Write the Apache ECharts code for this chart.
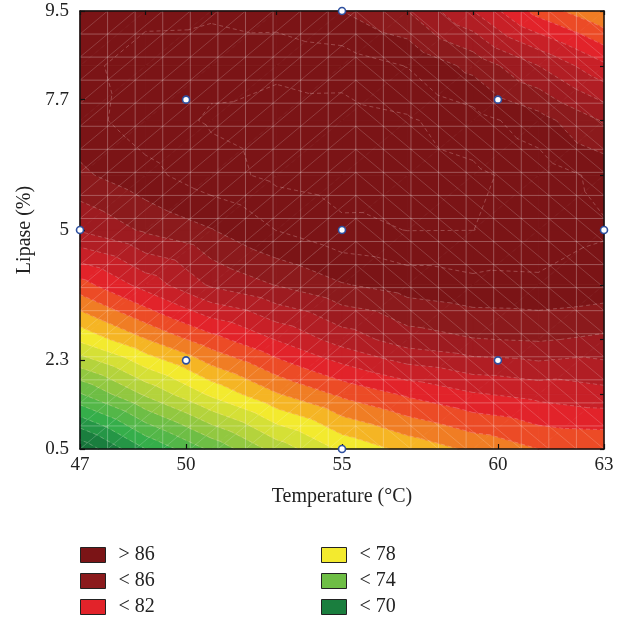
<!DOCTYPE html>
<html><head><meta charset="utf-8">
<script src="https://cdn.jsdelivr.net/npm/echarts@6/dist/echarts.min.js"></script>
<style>html,body{margin:0;padding:0;background:#fff}#c{width:624px;height:617px}</style>
</head><body><div id="c"></div>
<script>
// ---- data (coded factor units; labels give the real values) ----
const xTickCoded = [-1.68, -1, 0, 1, 1.68];
const xTickLabels = ['47', '50', '55', '60', '63'];
const yTickCoded = [-1.68, -1, 0, 1, 1.68];
const yTickLabels = ['0.5', '2.3', '5', '7.7', '9.5'];

// estimation grid nodes (temperature columns, lipase rows)
const gridTempCoded = [-1.68, -1.26, -0.84, -0.42, 0, 0.42, 0.84, 1.26, 1.68];
const gridLipaseCoded = [-1.68, -1.26, -0.84, -0.42, 0, 0.42, 0.84, 1.26, 1.68];
// response, one row per lipase level (bottom -> top)
const yieldRow0 = [68.2, 71.0, 73.2, 75.4, 77.2, 78.3, 79.2, 80.0, 80.1];
const yieldRow1 = [72.9, 75.15, 77.18, 78.91, 80.2, 81.15, 81.9, 82.3, 82.65];
const yieldRow2 = [77.2, 78.95, 80.6, 82.05, 83.44, 84.52, 84.95, 85.1, 84.8];
const yieldRow3 = [80.6, 82.4, 84.15, 85.05, 85.93, 86.45, 86.74, 86.79, 86.6];
const yieldRow4 = [84.1, 85.16, 85.95, 87.02, 87.75, 88.02, 88.01, 87.72, 87.1];
const yieldRow5 = [85.8, 86.69, 87.61, 88.25, 88.55, 88.53, 88.21, 87.58, 86.7];
const yieldRow6 = [86.6, 87.53, 88.11, 88.41, 88.43, 88.13, 87.43, 86.41, 84.9];
const yieldRow7 = [86.75, 87.42, 87.75, 87.79, 87.58, 86.96, 85.69, 84.0, 82.2];
const yieldRow8 = [86.5, 86.75, 86.78, 86.5, 86.0, 85.0, 83.0, 80.6, 79.0];

// contour band boundaries and fill colours (band k lies below level k)
const contourLevels = [67,68,69,70,71,72,73,74,75,76,77,78,79,80,81,82,83,84,85,86];
const bandColors = ['#0f6330','#146b35','#17743a','#1a7e3e','#259646','#35ae4a','#53b748','#6ebe45',
  '#92c840','#b4d33c','#d5e036','#f3ea2e','#f5b524','#f07d24','#ec4b26','#e2232a',
  '#c82027','#b11e24','#9d1b20','#8b1a1c','#7b1416'];
const isoLevels = [67,68,69,70,71,72,73,74,75,76,77,78,79,80,81,82,83,84,85,86,87,88];

// design points (coded)
const designTempCoded = [-1, -1, 1, 1, 0, -1.68, 1.68, 0, 0];
const designLipaseCoded = [-1, 1, -1, 1, 0, 0, 0, -1.68, 1.68];

const legendLabels = ['> 86', '< 86', '< 82', '< 78', '< 74', '< 70'];
const legendColors = ['#7b1416', '#8b1a1c', '#e2232a', '#f3ea2e', '#6ebe45', '#1a7e3e'];

const codedMin = -1.68, codedMax = 1.68, frameStep = 0.42, meshCells = 19;

// ---- rendering ----
const zRows = [yieldRow0, yieldRow1, yieldRow2, yieldRow3, yieldRow4, yieldRow5, yieldRow6, yieldRow7, yieldRow8];
const FONT = '"Liberation Serif", "DejaVu Serif", serif';

function pt(api, i, j) {
  const p = api.coord([gridTempCoded[i], gridLipaseCoded[j]]);
  return { x: p[0], y: p[1], z: zRows[j][i] };
}
function triangles(api, i, j) {
  const a = pt(api, i, j), b = pt(api, i + 1, j), c = pt(api, i + 1, j + 1), d = pt(api, i, j + 1);
  return [[a, b, c], [a, c, d]];
}
function clipPoly(pts, level, keepAbove) {
  const out = [];
  for (let k = 0; k < pts.length; k++) {
    const a = pts[k], b = pts[(k + 1) % pts.length];
    const ina = keepAbove ? a.z >= level : a.z <= level;
    const inb = keepAbove ? b.z >= level : b.z <= level;
    if (ina) out.push(a);
    if (ina !== inb) {
      const t = (level - a.z) / (b.z - a.z);
      out.push({ x: a.x + t * (b.x - a.x), y: a.y + t * (b.y - a.y), z: level });
    }
  }
  return out;
}
function renderBands(params, api) {
  const i = api.value(0), j = api.value(1);
  const children = [];
  triangles(api, i, j).forEach(tri => {
    for (let b = 0; b < bandColors.length; b++) {
      let poly = tri;
      if (b > 0) poly = clipPoly(poly, contourLevels[b - 1], true);
      if (poly.length < 3) continue;
      if (b < contourLevels.length) poly = clipPoly(poly, contourLevels[b], false);
      if (poly.length < 3) continue;
      children.push({ type: 'polygon', shape: { points: poly.map(p => [p.x, p.y]) },
        style: { fill: bandColors[b], stroke: bandColors[b], lineWidth: 0.8 } });
    }
  });
  return { type: 'group', children };
}
function renderIso(params, api) {
  const i = api.value(0), j = api.value(1);
  const children = [];
  triangles(api, i, j).forEach(tri => {
    isoLevels.forEach(L => {
      const pts = [];
      for (let k = 0; k < 3; k++) {
        const a = tri[k], b = tri[(k + 1) % 3];
        if ((a.z >= L) !== (b.z >= L)) {
          const t = (L - a.z) / (b.z - a.z);
          pts.push([a.x + t * (b.x - a.x), a.y + t * (b.y - a.y)]);
        }
      }
      if (pts.length === 2) children.push({ type: 'line',
        shape: { x1: pts[0][0], y1: pts[0][1], x2: pts[1][0], y2: pts[1][1] },
        style: { stroke: 'rgba(255,225,225,0.33)', lineWidth: 0.8, lineDash: [4, 3] } });
    });
  });
  return { type: 'group', children };
}
function renderMesh(params, api) {
  const children = [];
  const step = (codedMax - codedMin) / meshCells;
  const P = (u, v) => api.coord([u, v]);
  const gridStyle = { stroke: 'rgba(255,255,255,0.28)', lineWidth: 1 };
  const diagStyle = { stroke: 'rgba(255,255,255,0.22)', lineWidth: 0.8 };
  for (let k = 1; k < meshCells; k++) {
    const u = codedMin + k * step;
    const a = P(u, codedMin), b = P(u, codedMax);
    children.push({ type: 'line', shape: { x1: a[0], y1: a[1], x2: b[0], y2: b[1] }, style: gridStyle });
    const c = P(codedMin, u), d = P(codedMax, u);
    children.push({ type: 'line', shape: { x1: c[0], y1: c[1], x2: d[0], y2: d[1] }, style: gridStyle });
  }
  for (let ci = 0; ci < meshCells; ci++) {
    for (let rj = 0; rj < meshCells; rj++) {
      const u0 = codedMin + ci * step, u1 = u0 + step, v0 = codedMin + rj * step, v1 = v0 + step;
      let a, b;
      if (ci < 10) { a = P(u0, v0); b = P(u1, v1); } else { a = P(u0, v1); b = P(u1, v0); }
      children.push({ type: 'line', shape: { x1: a[0], y1: a[1], x2: b[0], y2: b[1] }, style: diagStyle });
    }
  }
  return { type: 'group', children };
}

const cells = [];
for (let j = 0; j < gridLipaseCoded.length - 1; j++)
  for (let i = 0; i < gridTempCoded.length - 1; i++) cells.push([i, j]);

const fmt = (ticks, labels) => v => {
  const k = ticks.findIndex(t => Math.abs(t - v) < 1e-6);
  return k >= 0 ? labels[k] : '';
};
const frameLine = { show: true, onZero: false, lineStyle: { color: '#111', width: 1.5 } };
const legendCommon = {
  orient: 'vertical', top: 545, height: 100, padding: 0,
  itemWidth: 25, itemHeight: 15, itemGap: 6, icon: 'rect',
  selectedMode: false,
  itemStyle: { borderColor: '#222', borderWidth: 1, opacity: 1 },
  textStyle: { fontFamily: FONT, fontSize: 20, lineHeight: 15, color: '#222', padding: [0, 0, 0, 8] }
};

const option = {
  animation: false,
  backgroundColor: '#fff',
  grid: { left: 80, right: 20, top: 11, bottom: 168, containLabel: false },
  xAxis: [
    { type: 'value', position: 'bottom', min: codedMin, max: codedMax, z: 10,
      axisLine: frameLine,
      axisTick: { show: true, inside: true, length: 5, customValues: xTickCoded, lineStyle: { color: '#111', width: 1.2 } },
      axisLabel: { customValues: xTickCoded, formatter: fmt(xTickCoded, xTickLabels), showMinLabel: true, showMaxLabel: true,
        fontFamily: FONT, fontSize: 19, color: '#222', margin: 7 },
      splitLine: { show: false },
      name: 'Temperature (°C)', nameLocation: 'middle', nameGap: 38,
      nameTextStyle: { fontFamily: FONT, fontSize: 20, color: '#222' } },
    { type: 'value', position: 'top', min: codedMin, max: codedMax, interval: frameStep, z: 10,
      axisLine: frameLine,
      axisTick: { show: true, inside: true, length: 4, lineStyle: { color: '#111', width: 1.2 } },
      axisLabel: { show: false }, splitLine: { show: false } }
  ],
  yAxis: [
    { type: 'value', position: 'left', min: codedMin, max: codedMax, z: 10,
      axisLine: frameLine,
      axisTick: { show: true, inside: true, length: 5, customValues: yTickCoded, lineStyle: { color: '#111', width: 1.2 } },
      axisLabel: { customValues: yTickCoded, formatter: fmt(yTickCoded, yTickLabels), showMinLabel: true, showMaxLabel: true,
        fontFamily: FONT, fontSize: 19, color: '#222', margin: 11 },
      splitLine: { show: false },
      name: 'Lipase (%)', nameLocation: 'middle', nameGap: 43,
      nameTextStyle: { fontFamily: FONT, fontSize: 20, color: '#222' } },
    { type: 'value', position: 'right', min: codedMin, max: codedMax, interval: frameStep, z: 10,
      axisLine: frameLine,
      axisTick: { show: true, inside: true, length: 4, lineStyle: { color: '#111', width: 1.2 } },
      axisLabel: { show: false }, splitLine: { show: false } }
  ],
  legend: [
    Object.assign({ left: 80, data: legendLabels.slice(0, 3) }, legendCommon),
    Object.assign({ left: 321, data: legendLabels.slice(3) }, legendCommon)
  ],
  series: [
    { type: 'custom', name: 'bands', coordinateSystem: 'cartesian2d', renderItem: renderBands,
      data: cells, z: 1, silent: true, encode: { x: 0, y: 1 } },
    { type: 'custom', name: 'mesh', coordinateSystem: 'cartesian2d', renderItem: renderMesh,
      data: [[0, 0]], z: 2, silent: true },
    { type: 'custom', name: 'iso', coordinateSystem: 'cartesian2d', renderItem: renderIso,
      data: cells, z: 3, silent: true },
    { type: 'scatter', name: 'design', data: designTempCoded.map((u, k) => [u, designLipaseCoded[k]]),
      symbol: 'circle', symbolSize: 7, clip: false, z: 12, silent: true,
      itemStyle: { color: '#ffffff', borderColor: '#2d4f9e', borderWidth: 1.6, opacity: 1 } }
  ].concat(legendLabels.map((name, k) => ({
    type: 'scatter', name, data: [], itemStyle: { color: legendColors[k], opacity: 1 }
  })))
};
const chart = echarts.init(document.getElementById('c'));
chart.setOption(option);
</script>
</body></html>
